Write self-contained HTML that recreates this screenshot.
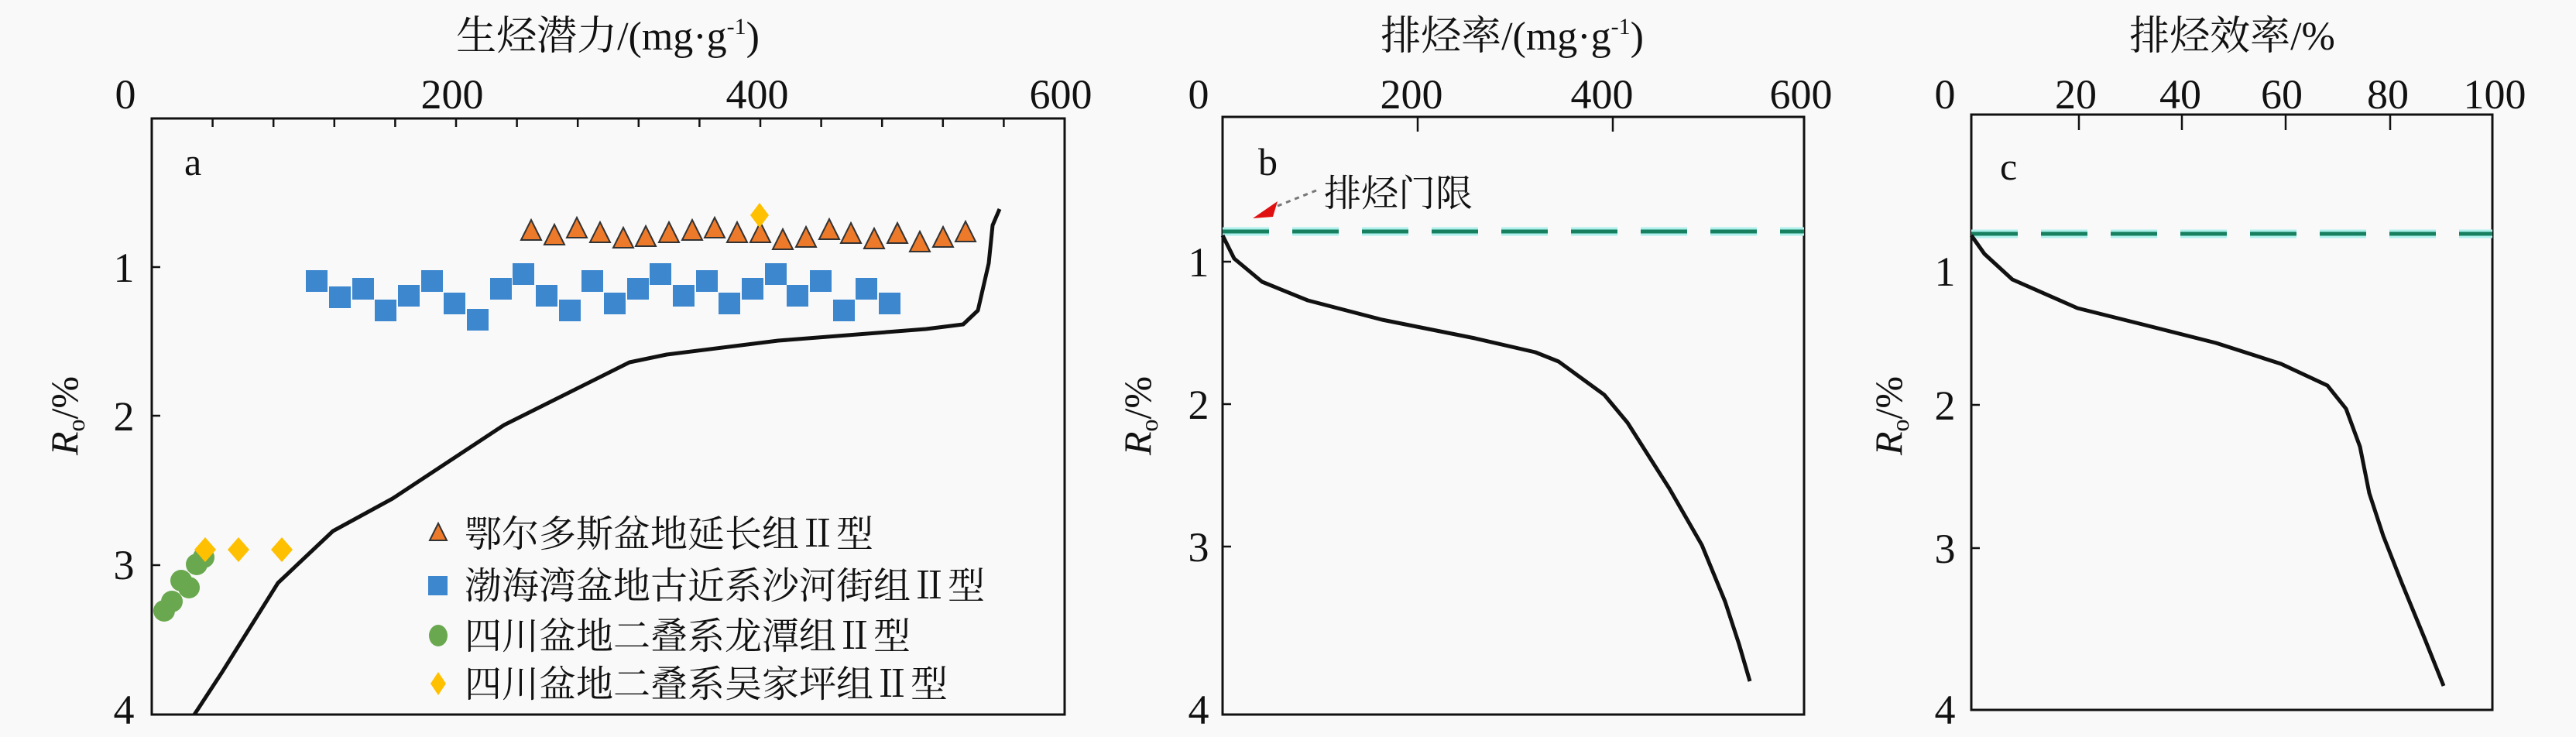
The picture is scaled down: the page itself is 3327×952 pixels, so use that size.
<!DOCTYPE html>
<html><head><meta charset="utf-8"><style>
html,body{margin:0;padding:0;background:#f9f9f9;}
svg{display:block;}
text{font-family:"Liberation Serif","Noto Serif CJK SC",serif;fill:#111;}
</style></head><body>
<svg width="3327" height="952" viewBox="0 0 3327 952" xmlns="http://www.w3.org/2000/svg">
<rect width="3327" height="952" fill="#f9f9f9"/>
<!-- Panel a -->
<text x="785" y="64" font-size="52" text-anchor="middle">生烃潜力/(mg·g<tspan font-size="30" dy="-20">-1</tspan><tspan dy="20">)</tspan></text>
<g font-size="54" text-anchor="middle">
<text x="162" y="140">0</text><text x="584" y="140">200</text><text x="978" y="140">400</text><text x="1370" y="140">600</text>
<text x="160" y="364">1</text><text x="160" y="556">2</text><text x="160" y="748">3</text><text x="160" y="935">4</text>
</g>
<text transform="translate(100,537) rotate(-90)" font-size="50" text-anchor="middle"><tspan font-style="italic">R</tspan><tspan font-size="32" dy="9">o</tspan><tspan dy="-9">/%</tspan></text>
<rect x="196" y="153" width="1179" height="770" fill="none" stroke="#111" stroke-width="3"/>
<g stroke="#111" stroke-width="2.5">
<line x1="274.6" y1="153" x2="274.6" y2="164"/><line x1="353.2" y1="153" x2="353.2" y2="164"/><line x1="431.8" y1="153" x2="431.8" y2="164"/><line x1="510.4" y1="153" x2="510.4" y2="164"/><line x1="589" y1="153" x2="589" y2="164"/><line x1="667.6" y1="153" x2="667.6" y2="164"/><line x1="746.2" y1="153" x2="746.2" y2="164"/><line x1="824.8" y1="153" x2="824.8" y2="164"/><line x1="903.4" y1="153" x2="903.4" y2="164"/><line x1="982" y1="153" x2="982" y2="164"/><line x1="1060.6" y1="153" x2="1060.6" y2="164"/><line x1="1139.2" y1="153" x2="1139.2" y2="164"/><line x1="1217.8" y1="153" x2="1217.8" y2="164"/><line x1="1296.4" y1="153" x2="1296.4" y2="164"/>
<line x1="196" y1="345" x2="207" y2="345"/><line x1="196" y1="537" x2="207" y2="537"/><line x1="196" y1="730" x2="207" y2="730"/>
</g>
<text x="238" y="226" font-size="50">a</text>
<!-- squares -->
<g fill="#3d87cf">
<rect x="395" y="349" width="28" height="28"/><rect x="425" y="370" width="28" height="28"/><rect x="455" y="359" width="28" height="28"/><rect x="484" y="387" width="28" height="28"/><rect x="514" y="368" width="28" height="28"/><rect x="544" y="349" width="28" height="28"/><rect x="573" y="378" width="28" height="28"/><rect x="603" y="399" width="28" height="28"/><rect x="633" y="359" width="28" height="28"/><rect x="662" y="340" width="28" height="28"/><rect x="692" y="368" width="28" height="28"/><rect x="722" y="387" width="28" height="28"/><rect x="751" y="349" width="28" height="28"/><rect x="780" y="378" width="28" height="28"/><rect x="810" y="359" width="28" height="28"/><rect x="839" y="340" width="28" height="28"/><rect x="869" y="368" width="28" height="28"/><rect x="899" y="349" width="28" height="28"/><rect x="928" y="378" width="28" height="28"/><rect x="958" y="359" width="28" height="28"/><rect x="988" y="340" width="28" height="28"/><rect x="1016" y="368" width="28" height="28"/><rect x="1046" y="349" width="28" height="28"/><rect x="1076" y="387" width="28" height="28"/><rect x="1105" y="359" width="28" height="28"/><rect x="1135" y="378" width="28" height="28"/>
</g>
<!-- triangles -->
<g fill="#ec7a2a" stroke="#333" stroke-width="2">
<path d="M686,284 l13,26 h-26z"/><path d="M716,290 l13,26 h-26z"/><path d="M745,281 l13,26 h-26z"/><path d="M775,287 l13,26 h-26z"/><path d="M805,294 l13,26 h-26z"/><path d="M834,292 l13,26 h-26z"/><path d="M864,287 l13,26 h-26z"/><path d="M894,284 l13,26 h-26z"/><path d="M923,281 l13,26 h-26z"/><path d="M952,287 l13,26 h-26z"/><path d="M982,287 l13,26 h-26z"/><path d="M1011,296 l13,26 h-26z"/><path d="M1041,293 l13,26 h-26z"/><path d="M1071,283 l13,26 h-26z"/><path d="M1099,288 l13,26 h-26z"/><path d="M1129,295 l13,26 h-26z"/><path d="M1159,288 l13,26 h-26z"/><path d="M1188,299 l13,26 h-26z"/><path d="M1218,293 l13,26 h-26z"/><path d="M1247,286 l13,26 h-26z"/>
</g>
<!-- circles -->
<g fill="#6aa84f">
<circle cx="212" cy="789" r="14"/><circle cx="222" cy="777" r="14"/><circle cx="234" cy="750" r="14"/><circle cx="244" cy="759" r="14"/><circle cx="254" cy="729" r="14"/><circle cx="263" cy="720" r="14"/>
</g>
<!-- diamonds -->
<g fill="#ffc000">
<path d="M265,694 l14,16 l-14,16 l-14,-16z"/><path d="M308,694 l14,16 l-14,16 l-14,-16z"/><path d="M364,694 l14,16 l-14,16 l-14,-16z"/><path d="M981,262 l12,16 l-12,16 l-12,-16z"/>
</g>
<polyline fill="none" stroke="#111" stroke-width="5" stroke-linejoin="round" points="251,923 287,868 359,753 430,686 507,644 651,549 813,468 861,458 1005,440 1196,425 1244,419 1263,401 1277,340 1282,291 1291,270"/>
<!-- legend -->
<path d="M566,676 l11,22 h-22z" fill="#ec7a2a" stroke="#333" stroke-width="2"/>
<rect x="553" y="744" width="25" height="25" fill="#3d87cf"/>
<ellipse cx="566" cy="821" rx="12" ry="14" fill="#6aa84f"/>
<path d="M566,868 l10,15 l-10,15 l-10,-15z" fill="#ffc000"/>
<g font-size="48">
<text x="600" y="706">鄂尔多斯盆地延长组Ⅱ型</text>
<text x="600" y="773">渤海湾盆地古近系沙河街组Ⅱ型</text>
<text x="600" y="838">四川盆地二叠系龙潭组Ⅱ型</text>
<text x="600" y="900">四川盆地二叠系吴家坪组Ⅱ型</text>
</g>
<!-- Panel b -->
<text x="1953" y="64" font-size="52" text-anchor="middle">排烃率/(mg·g<tspan font-size="30" dy="-20">-1</tspan><tspan dy="20">)</tspan></text>
<g font-size="54" text-anchor="middle">
<text x="1548" y="140">0</text><text x="1823" y="140">200</text><text x="2069" y="140">400</text><text x="2326" y="140">600</text>
<text x="1548" y="357">1</text><text x="1548" y="541">2</text><text x="1548" y="725">3</text><text x="1548" y="935">4</text>
</g>
<text transform="translate(1486,537) rotate(-90)" font-size="50" text-anchor="middle"><tspan font-style="italic">R</tspan><tspan font-size="32" dy="9">o</tspan><tspan dy="-9">/%</tspan></text>
<rect x="1579" y="151" width="751" height="772" fill="none" stroke="#111" stroke-width="3"/>
<g stroke="#111" stroke-width="2.5">
<line x1="1831" y1="151" x2="1831" y2="170"/><line x1="2083" y1="151" x2="2083" y2="170"/>
<line x1="1579" y1="338" x2="1590" y2="338"/><line x1="1579" y1="522" x2="1590" y2="522"/><line x1="1579" y1="706" x2="1590" y2="706"/>
</g>
<text x="1625" y="226" font-size="50">b</text>
<line x1="1579" y1="299" x2="2330" y2="299" stroke="#aef0ec" stroke-width="11" stroke-dasharray="60,30"/>
<line x1="1579" y1="299" x2="2330" y2="299" stroke="#17805f" stroke-width="5" stroke-dasharray="60,30"/>
<line x1="1700" y1="246" x2="1650" y2="266" stroke="#777" stroke-width="3" stroke-dasharray="6,6"/>
<path d="M1618,282 l32,-22 l-6,20z" fill="#e01010"/>
<text x="1710" y="266" font-size="48">排烃门限</text>
<polyline fill="none" stroke="#111" stroke-width="5" stroke-linejoin="round" points="1579,304 1594,334 1630,364 1689,388 1785,413 1905,437 1983,455 2013,467 2072,510 2102,546 2156,631 2198,704 2228,777 2246,832 2260,880"/>
<!-- Panel c -->
<text x="2883" y="64" font-size="52" text-anchor="middle">排烃效率/%</text>
<g font-size="54" text-anchor="middle">
<text x="2512" y="140">0</text><text x="2681" y="140">20</text><text x="2816" y="140">40</text><text x="2947" y="140">60</text><text x="3084" y="140">80</text><text x="3222" y="140">100</text>
<text x="2512" y="369">1</text><text x="2512" y="542">2</text><text x="2512" y="727">3</text><text x="2512" y="935">4</text>
</g>
<text transform="translate(2456,537) rotate(-90)" font-size="50" text-anchor="middle"><tspan font-style="italic">R</tspan><tspan font-size="32" dy="9">o</tspan><tspan dy="-9">/%</tspan></text>
<rect x="2546" y="148" width="673" height="769" fill="none" stroke="#111" stroke-width="3"/>
<g stroke="#111" stroke-width="2.5">
<line x1="2685" y1="148" x2="2685" y2="168"/><line x1="2818" y1="148" x2="2818" y2="168"/><line x1="2952" y1="148" x2="2952" y2="168"/><line x1="3087" y1="148" x2="3087" y2="168"/>
<line x1="2546" y1="523" x2="2557" y2="523"/><line x1="2546" y1="708" x2="2557" y2="708"/>
</g>
<text x="2583" y="232" font-size="50">c</text>
<line x1="2546" y1="302" x2="3219" y2="302" stroke="#aef0ec" stroke-width="11" stroke-dasharray="60,30"/>
<line x1="2546" y1="302" x2="3219" y2="302" stroke="#17805f" stroke-width="5" stroke-dasharray="60,30"/>
<polyline fill="none" stroke="#111" stroke-width="5" stroke-linejoin="round" points="2546,304 2563,328 2599,361 2683,398 2767,419 2862,443 2946,470 3006,498 3030,528 3048,577 3060,637 3078,692 3102,753 3132,826 3156,886"/>
</svg>
</body></html>
